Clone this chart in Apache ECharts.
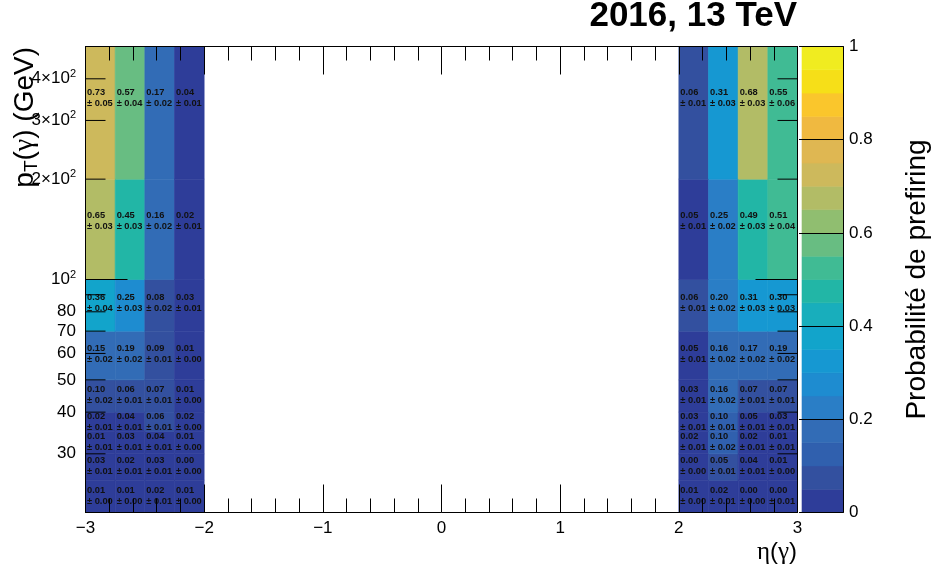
<!DOCTYPE html>
<html>
<head>
<meta charset="utf-8">
<script src="https://cdn.jsdelivr.net/npm/echarts@6/dist/echarts.min.js"></script>
<style>html,body{margin:0;padding:0;background:#fff}#c{width:932px;height:569px}</style>
</head>
<body>
<div id="c"></div>
<script>
// ---------- data ----------
const etaBins = [[-3, -2.75], [-2.75, -2.5], [-2.5, -2.25], [-2.25, -2], [2, 2.25], [2.25, 2.5], [2.5, 2.75], [2.75, 3]];
const ptEdges = [20, 25, 30, 35, 40, 50, 70, 100, 200, 500];
// prefiring probability, rows = pT bins (low -> high), columns = eta bins
const prob = [
  [0.01, 0.01, 0.02, 0.01, 0.01, 0.02, 0.00, 0.00],
  [0.03, 0.02, 0.03, 0.00, 0.00, 0.05, 0.04, 0.01],
  [0.01, 0.03, 0.04, 0.01, 0.02, 0.10, 0.02, 0.01],
  [0.02, 0.04, 0.06, 0.02, 0.03, 0.10, 0.049, 0.03],
  [0.098, 0.06, 0.07, 0.01, 0.03, 0.16, 0.07, 0.07],
  [0.15, 0.19, 0.09, 0.01, 0.049, 0.16, 0.17, 0.19],
  [0.36, 0.25, 0.08, 0.03, 0.06, 0.20, 0.31, 0.30],
  [0.65, 0.45, 0.16, 0.02, 0.049, 0.248, 0.49, 0.51],
  [0.73, 0.57, 0.17, 0.04, 0.06, 0.31, 0.68, 0.548]
];
const probErr = [
  [0.00, 0.00, 0.01, 0.00, 0.00, 0.01, 0.00, 0.01],
  [0.01, 0.01, 0.01, 0.00, 0.00, 0.01, 0.01, 0.00],
  [0.01, 0.01, 0.01, 0.00, 0.01, 0.02, 0.01, 0.01],
  [0.01, 0.01, 0.01, 0.00, 0.01, 0.01, 0.01, 0.01],
  [0.02, 0.01, 0.01, 0.00, 0.01, 0.02, 0.01, 0.01],
  [0.02, 0.02, 0.01, 0.00, 0.01, 0.02, 0.02, 0.02],
  [0.04, 0.03, 0.02, 0.01, 0.01, 0.02, 0.03, 0.03],
  [0.03, 0.03, 0.02, 0.01, 0.01, 0.02, 0.03, 0.04],
  [0.05, 0.04, 0.02, 0.01, 0.01, 0.03, 0.03, 0.06]
];
const yTickValues = [20, 30, 40, 50, 60, 70, 80, 90, 100, 200, 300, 400, 500];
const yMajorTicks = [100];
const yLabelValues = [30, 40, 50, 60, 70, 80, 100, 200, 300, 400];
const yLabelTexts = ['30', '40', '50', '60', '70', '80', '10{sup|2}', '2×10{sup|2}', '3×10{sup|2}', '4×10{sup|2}'];
const contourLevels = [0, 0.05, 0.1, 0.15, 0.2, 0.25, 0.3, 0.35, 0.4, 0.45, 0.5, 0.55, 0.6, 0.65, 0.7, 0.75, 0.8, 0.85, 0.9, 0.95];
const zMax = 1;

// ---------- style: palette bands (bird-like, as seen in the colour bar) ----------
const bandColors = [
  '#2e3d99', '#33509f', '#3060ae', '#326cb6', '#2a7ec6',
  '#1e8cd0', '#1698d2', '#12a4cb', '#18aebc', '#22b6a6',
  '#40bb94', '#68bd82', '#90be70', '#b2bc66', '#cdb95c',
  '#dfb752', '#f0b940', '#fac62c', '#f6df18', '#f0ec20'
];
const nC = contourLevels.length;
function bandOf(v) {
  let b = 0;
  for (let i = 0; i < nC; i++) if (v >= contourLevels[i] - 1e-9) b = i;
  return b;
}

const FONT = '"Liberation Sans", Arial, Helvetica, sans-serif';

// ---------- build series data ----------
const cellData = [];
for (let r = 0; r < ptEdges.length - 1; r++) {
  for (let c = 0; c < etaBins.length; c++) {
    cellData.push([etaBins[c][0], etaBins[c][1], ptEdges[r], ptEdges[r + 1], prob[r][c], probErr[r][c]]);
  }
}

const chart = echarts.init(document.getElementById('c'), null, {renderer: 'canvas', width: 932, height: 569});

const fmtX = v => (v < 0 ? '\u2212' + (-v) : String(v));

const option = {
  animation: false,
  backgroundColor: '#fff',
  grid: [
    {left: 85.5, top: 46.5, width: 712, height: 466},
    {left: 802, top: 46.5, width: 44, height: 466}
  ],
  xAxis: [
    {
      gridIndex: 0, type: 'value', min: -3, max: 3, interval: 1, position: 'bottom', z: 3,
      axisLine: {show: true, onZero: false, lineStyle: {color: '#000', width: 1}},
      axisTick: {show: true, inside: true, length: 28, lineStyle: {color: '#000', width: 1}},
      minorTick: {show: true, splitNumber: 5, length: 14, lineStyle: {color: '#000', width: 1}},
      axisLabel: {show: true, margin: 7, fontSize: 17, color: '#000', fontFamily: FONT, formatter: fmtX},
      splitLine: {show: false}, minorSplitLine: {show: false}
    },
    {
      gridIndex: 0, type: 'value', min: -3, max: 3, interval: 1, position: 'top', z: 3,
      axisLine: {show: true, onZero: false, lineStyle: {color: '#000', width: 1}},
      axisTick: {show: true, inside: true, length: 28, lineStyle: {color: '#000', width: 1}},
      minorTick: {show: true, splitNumber: 5, length: 14, lineStyle: {color: '#000', width: 1}},
      axisLabel: {show: false},
      splitLine: {show: false}, minorSplitLine: {show: false}
    },
    {gridIndex: 1, type: 'value', min: 0, max: 1, show: false}
  ],
  yAxis: [
    {
      gridIndex: 0, type: 'log', logBase: 10, min: 20, max: 500, position: 'left', z: 3,
      axisLine: {show: true, onZero: false, lineStyle: {color: '#000', width: 1}},
      axisTick: {show: false}, axisLabel: {show: false}, splitLine: {show: false}, minorTick: {show: false}
    },
    {
      gridIndex: 0, type: 'log', logBase: 10, min: 20, max: 500, position: 'right', z: 3,
      axisLine: {show: true, onZero: false, lineStyle: {color: '#000', width: 1}},
      axisTick: {show: false}, axisLabel: {show: false}, splitLine: {show: false}, minorTick: {show: false}
    },
    {
      gridIndex: 1, type: 'value', min: 0, max: zMax, interval: 0.2, position: 'right', z: 3,
      axisLine: {show: true, onZero: false, lineStyle: {color: '#000', width: 1}},
      axisTick: {show: true, inside: true, length: 44, lineStyle: {color: '#000', width: 1}},
      axisLabel: {show: true, margin: 6, fontSize: 17, color: '#000', fontFamily: FONT,
        formatter: v => (v === 0 ? '0' : v === 1 ? '1' : v.toFixed(1))},
      splitLine: {show: false},
      name: 'Probabilité de prefiring', nameLocation: 'middle', nameRotate: 90, nameGap: 60,
      nameTextStyle: {fontSize: 28, color: '#000', fontFamily: FONT}
    }
  ],
  graphic: [
    {
      type: 'text', x: 797, y: 16, z: 10,
      style: {text: '2016, 13 TeV', font: 'bold 35px ' + FONT, fill: '#000', align: 'right', verticalAlign: 'middle'}
    },
    {
      type: 'text', x: 797, y: 552, z: 10,
      style: {text: '{g|η}({g|γ})', font: '24px ' + FONT, fill: '#000', align: 'right', verticalAlign: 'middle',
        rich: {g: {fontFamily: '"Liberation Serif", "DejaVu Serif", serif', fontSize: 25}}}
    },
    {
      type: 'text', x: 25, y: 47, rotation: Math.PI / 2, z: 10,
      style: {text: 'p{sub|T}({g|γ}) (GeV)', font: '28px ' + FONT, fill: '#000', align: 'right', verticalAlign: 'middle',
        rich: {
          sub: {fontSize: 19, fontFamily: FONT, padding: [14, 0, 0, 0]},
          g: {fontSize: 28, fontFamily: '"Liberation Serif", "DejaVu Serif", serif'}
        }}
    }
  ],
  series: [
    {
      type: 'custom', name: 'cells', xAxisIndex: 0, yAxisIndex: 0, z: 2, silent: true,
      data: cellData, encode: {x: [0, 1], y: [2, 3]},
      renderItem: function (params, api) {
        const x0 = api.value(0), x1 = api.value(1), y0 = api.value(2), y1 = api.value(3);
        const v = api.value(4), e = api.value(5);
        const p0 = api.coord([x0, y0]);
        const p1 = api.coord([x1, y1]);
        const col = bandColors[bandOf(v)];
        const yc = api.coord([x0, (y0 + y1) / 2])[1];
        return {
          type: 'group',
          children: [
            {type: 'rect', shape: {x: p0[0], y: p1[1], width: p1[0] - p0[0], height: p0[1] - p1[1]},
              style: {fill: col, stroke: col, lineWidth: 0.6}},
            {type: 'text', x: p0[0] + 1.5, y: yc,
              style: {text: v.toFixed(2) + '\n± ' + e.toFixed(2), font: 'bold 9.3px ' + FONT, fill: '#111',
                align: 'left', verticalAlign: 'middle', lineHeight: 11}}
          ]
        };
      }
    },
    {
      type: 'custom', name: 'yticks', xAxisIndex: 0, yAxisIndex: 0, z: 5, silent: true, clip: false,
      data: yTickValues.map(v => [0, v]), encode: {x: 0, y: 1},
      renderItem: function (params, api) {
        const v = api.value(1);
        const pl = api.coord([-3, v]);
        const pr = api.coord([3, v]);
        const len = yMajorTicks.indexOf(v) >= 0 ? 42 : 20;
        const children = [
          {type: 'line', shape: {x1: pl[0], y1: pl[1], x2: pl[0] + len, y2: pl[1]}, style: {stroke: '#000', lineWidth: 1}},
          {type: 'line', shape: {x1: pr[0], y1: pr[1], x2: pr[0] - len, y2: pr[1]}, style: {stroke: '#000', lineWidth: 1}}
        ];
        const li = yLabelValues.indexOf(v);
        if (li >= 0) {
          children.push({type: 'text', x: pl[0] - 9.5, y: pl[1],
            style: {text: yLabelTexts[li], font: '17px ' + FONT, fill: '#000', align: 'right', verticalAlign: 'middle',
              rich: {sup: {fontSize: 11, fontFamily: FONT, padding: [0, 0, 10, 0]}}}});
        }
        return {type: 'group', children: children};
      }
    },
    {
      type: 'custom', name: 'palette', xAxisIndex: 2, yAxisIndex: 2, z: 2, silent: true,
      data: contourLevels.map(l => [0, l]), encode: {x: 0, y: 1},
      renderItem: function (params, api) {
        const i = params.dataIndex;
        const lo = contourLevels[i];
        const hi = i + 1 < nC ? contourLevels[i + 1] : zMax;
        const p0 = api.coord([0, lo]);
        const p1 = api.coord([1, hi]);
        return {type: 'rect', shape: {x: p0[0], y: p1[1], width: p1[0] - p0[0], height: p0[1] - p1[1]},
          style: {fill: bandColors[i], stroke: bandColors[i], lineWidth: 0.6}};
      }
    }
  ]
};
chart.setOption(option);
</script>
</body>
</html>
